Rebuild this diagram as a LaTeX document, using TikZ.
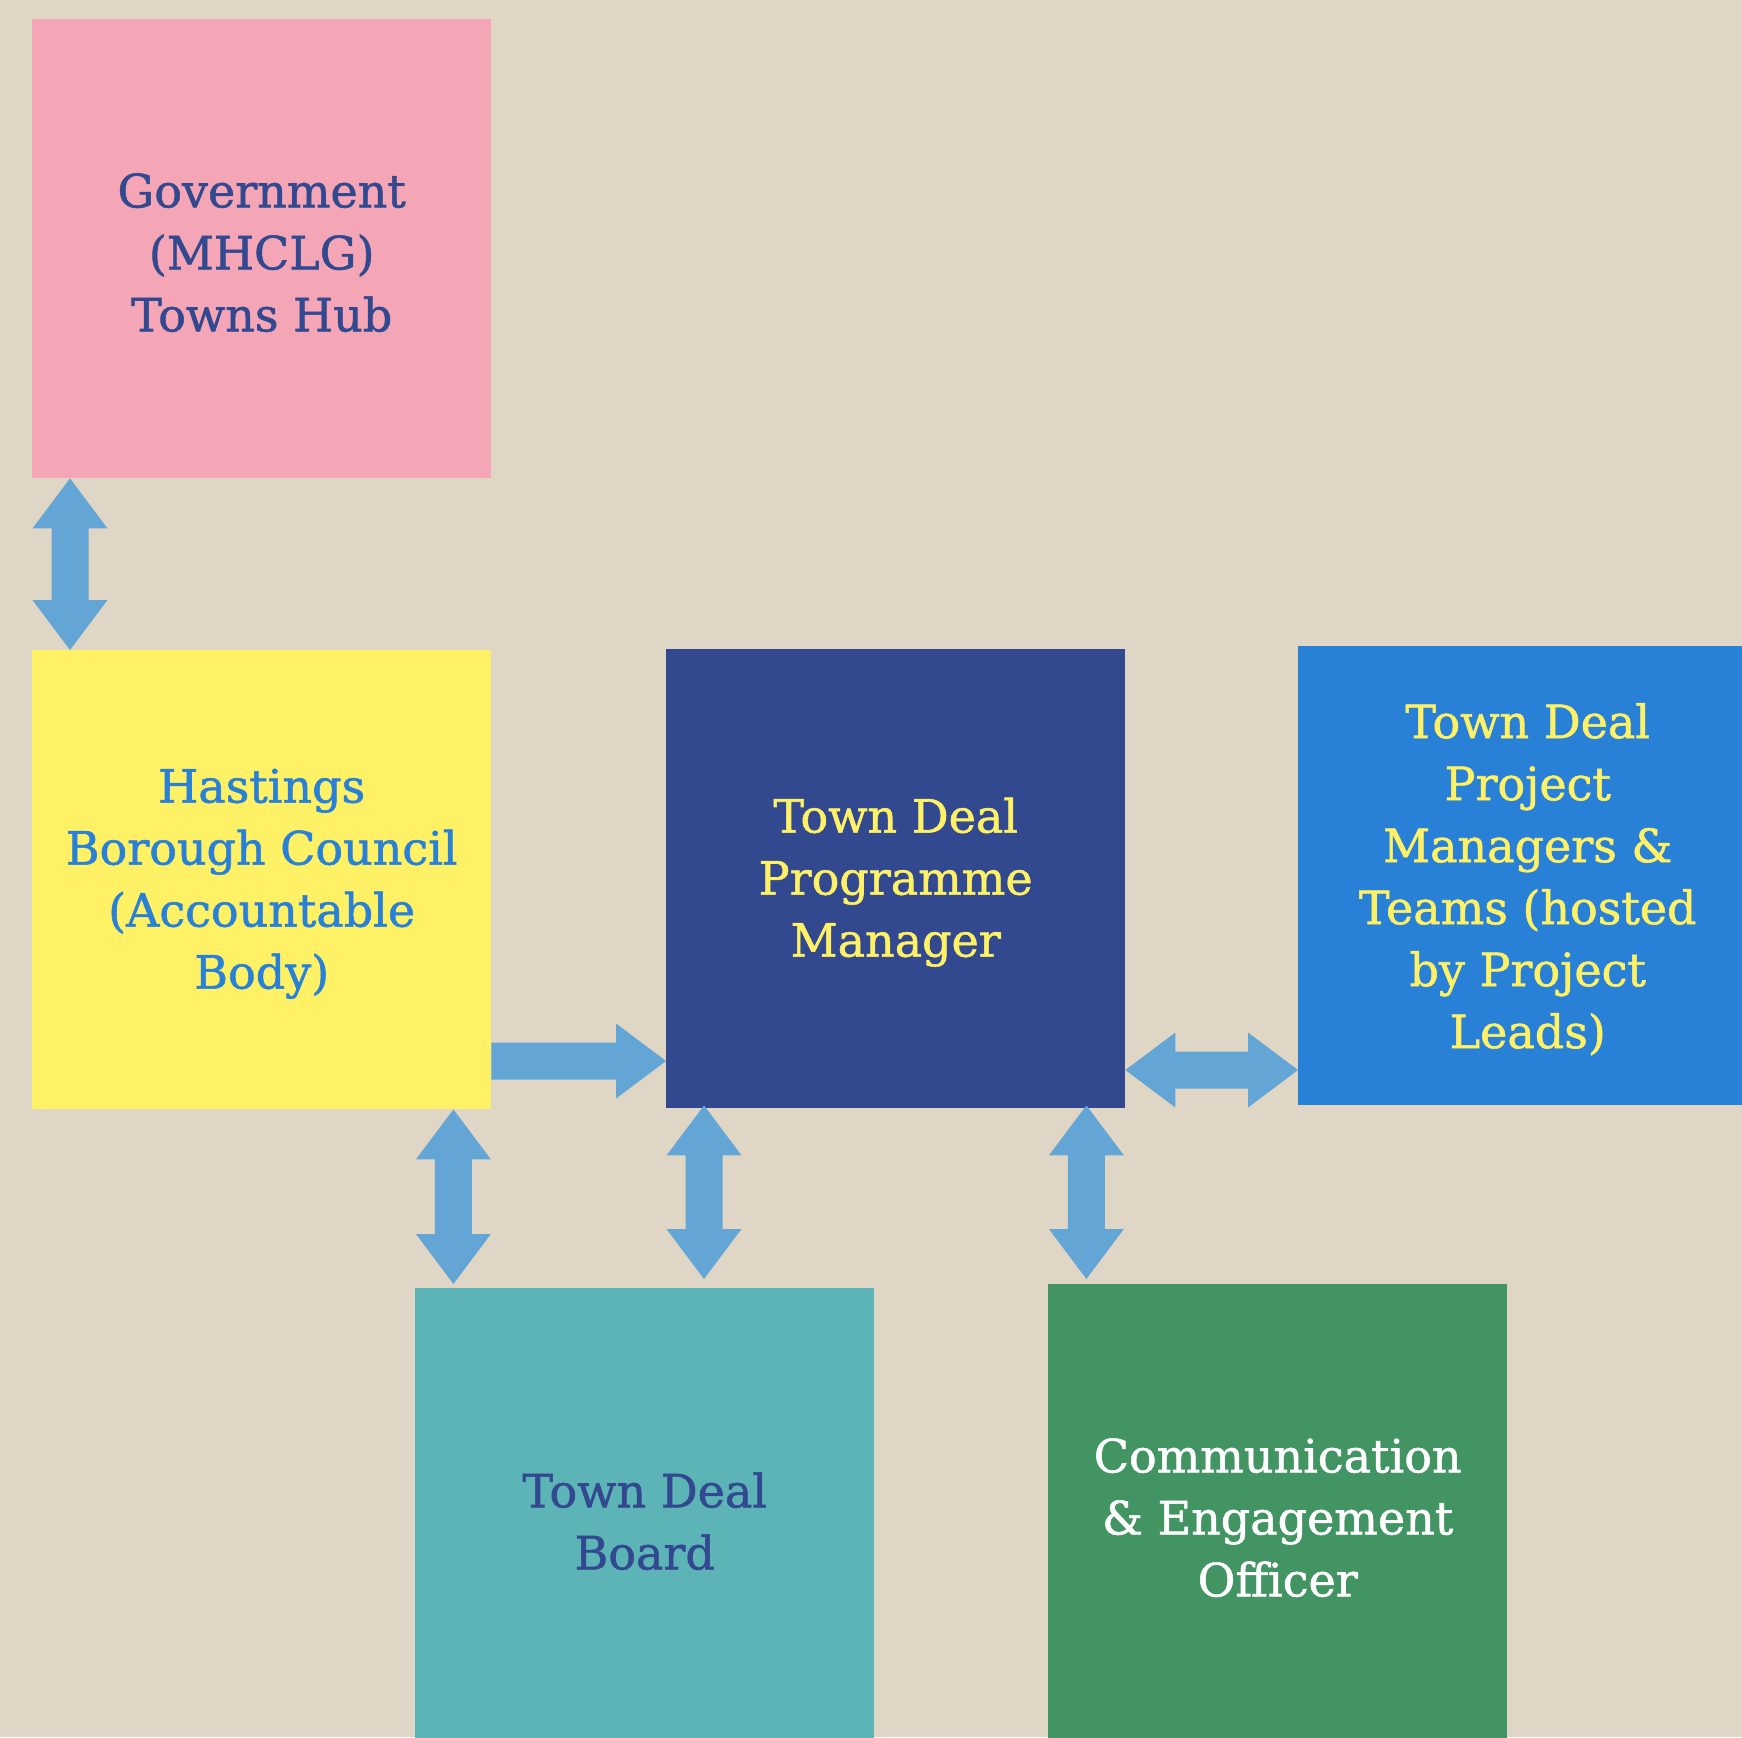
\documentclass[tikz,border=0pt]{standalone}
\usepackage{fontspec}
\setmainfont{DejaVu Serif}[FakeBold=1.2]
\usetikzlibrary{calc}
\definecolor{bgc}{HTML}{DFD6C5}
\definecolor{pinkc}{HTML}{F4A6B7}
\definecolor{yellowc}{HTML}{FFF166}
\definecolor{navyc}{HTML}{324990}
\definecolor{bluec}{HTML}{2981D7}
\definecolor{tealc}{HTML}{5DB4B6}
\definecolor{greenc}{HTML}{429563}
\definecolor{arrowc}{HTML}{63A6D5}
\newcommand\arrHL{50pt}
\newcommand\arrHW{37.5pt}
\newcommand\arrSW{18.5pt}
\newcommand\topstrut{\rule{0pt}{42pt}}
\begin{document}
\begin{tikzpicture}[x=1pt,y=-1pt,
  box/.style={rectangle, minimum width=459pt, minimum height=459pt, inner sep=0pt,
    anchor=north west, align=center, font=\fontsize{46}{62}\selectfont},
  dbl/.style={fill=arrowc, to path={
    ($(\tikztostart)!\arrHL!(\tikztotarget)!\arrHW!90:(\tikztotarget)$)
    -- ($(\tikztostart)!\arrHL!(\tikztotarget)!\arrSW!90:(\tikztotarget)$)
    -- ($(\tikztotarget)!\arrHL!(\tikztostart)!\arrSW!-90:(\tikztostart)$)
    -- ($(\tikztotarget)!\arrHL!(\tikztostart)!\arrHW!-90:(\tikztostart)$)
    -- (\tikztotarget)
    -- ($(\tikztotarget)!\arrHL!(\tikztostart)!\arrHW!90:(\tikztostart)$)
    -- ($(\tikztotarget)!\arrHL!(\tikztostart)!\arrSW!90:(\tikztostart)$)
    -- ($(\tikztostart)!\arrHL!(\tikztotarget)!\arrSW!-90:(\tikztotarget)$)
    -- ($(\tikztostart)!\arrHL!(\tikztotarget)!\arrHW!-90:(\tikztotarget)$)
    -- (\tikztostart) -- cycle}},
  sgl/.style={fill=arrowc, to path={
    ($(\tikztostart)!\arrSW!90:(\tikztotarget)$)
    -- ($(\tikztotarget)!\arrHL!(\tikztostart)!\arrSW!-90:(\tikztostart)$)
    -- ($(\tikztotarget)!\arrHL!(\tikztostart)!\arrHW!-90:(\tikztostart)$)
    -- (\tikztotarget)
    -- ($(\tikztotarget)!\arrHL!(\tikztostart)!\arrHW!90:(\tikztostart)$)
    -- ($(\tikztotarget)!\arrHL!(\tikztostart)!\arrSW!90:(\tikztostart)$)
    -- ($(\tikztostart)!\arrSW!-90:(\tikztotarget)$) -- cycle}}
]
\useasboundingbox (0,0) rectangle (1742,1737);
\fill[bgc] (0,0) rectangle (1742,1737);
\clip (0,0) rectangle (1742,1737);

\node[box, fill=pinkc, text=navyc] (gov) at (32,19) {\topstrut Government\\(MHCLG)\\Towns Hub};
\node[box, fill=yellowc, text=bluec] (has) at (32,650) {\topstrut Hastings\\Borough Council\\(Accountable\\Body)};
\node[box, fill=navyc, text=yellowc] (pm) at (666,649) {\topstrut Town Deal\\Programme\\Manager};
\node[box, fill=bluec, text=yellowc] (proj) at (1298,646) {\topstrut Town Deal\\Project\\Managers \&\\Teams (hosted\\by Project\\Leads)};
\node[box, fill=tealc, text=navyc] (board) at (415,1288) {\topstrut Town Deal\\Board};
\node[box, fill=greenc, text=white] (comm) at (1048,1284) {\topstrut Communication\\\& Engagement\\Officer};

% Government <-> Hastings
\coordinate (a1) at ([xshift=38pt]gov.south west);
\coordinate (a2) at (a1 |- has.north);
\path[dbl] (a1) to (a2);

% Hastings -> Programme Manager
\coordinate (b1) at ([yshift=-411pt]has.north east);
\coordinate (b2) at (b1 -| pm.west);
\path[sgl] (b1) to (b2);

% Hastings <-> Board
\coordinate (c1) at ([xshift=-38pt]has.south east);
\coordinate (c2) at ([yshift=4pt]c1 |- board.north);
\path[dbl] (c1) to (c2);

% Programme Manager <-> Board
\coordinate (d1) at ([xshift=38pt,yshift=3pt]pm.south west);
\coordinate (d2) at ([yshift=9pt]d1 |- board.north);
\path[dbl] (d1) to (d2);

% Programme Manager <-> Communication
\coordinate (e1) at ([xshift=-39pt,yshift=3pt]pm.south east);
\coordinate (e2) at ([yshift=5pt]e1 |- comm.north);
\path[dbl] (e1) to (e2);

% Programme Manager <-> Project teams
\coordinate (f1) at ([yshift=-421pt]pm.north east);
\coordinate (f2) at (f1 -| proj.west);
\path[dbl] (f1) to (f2);
\end{tikzpicture}
\end{document}
